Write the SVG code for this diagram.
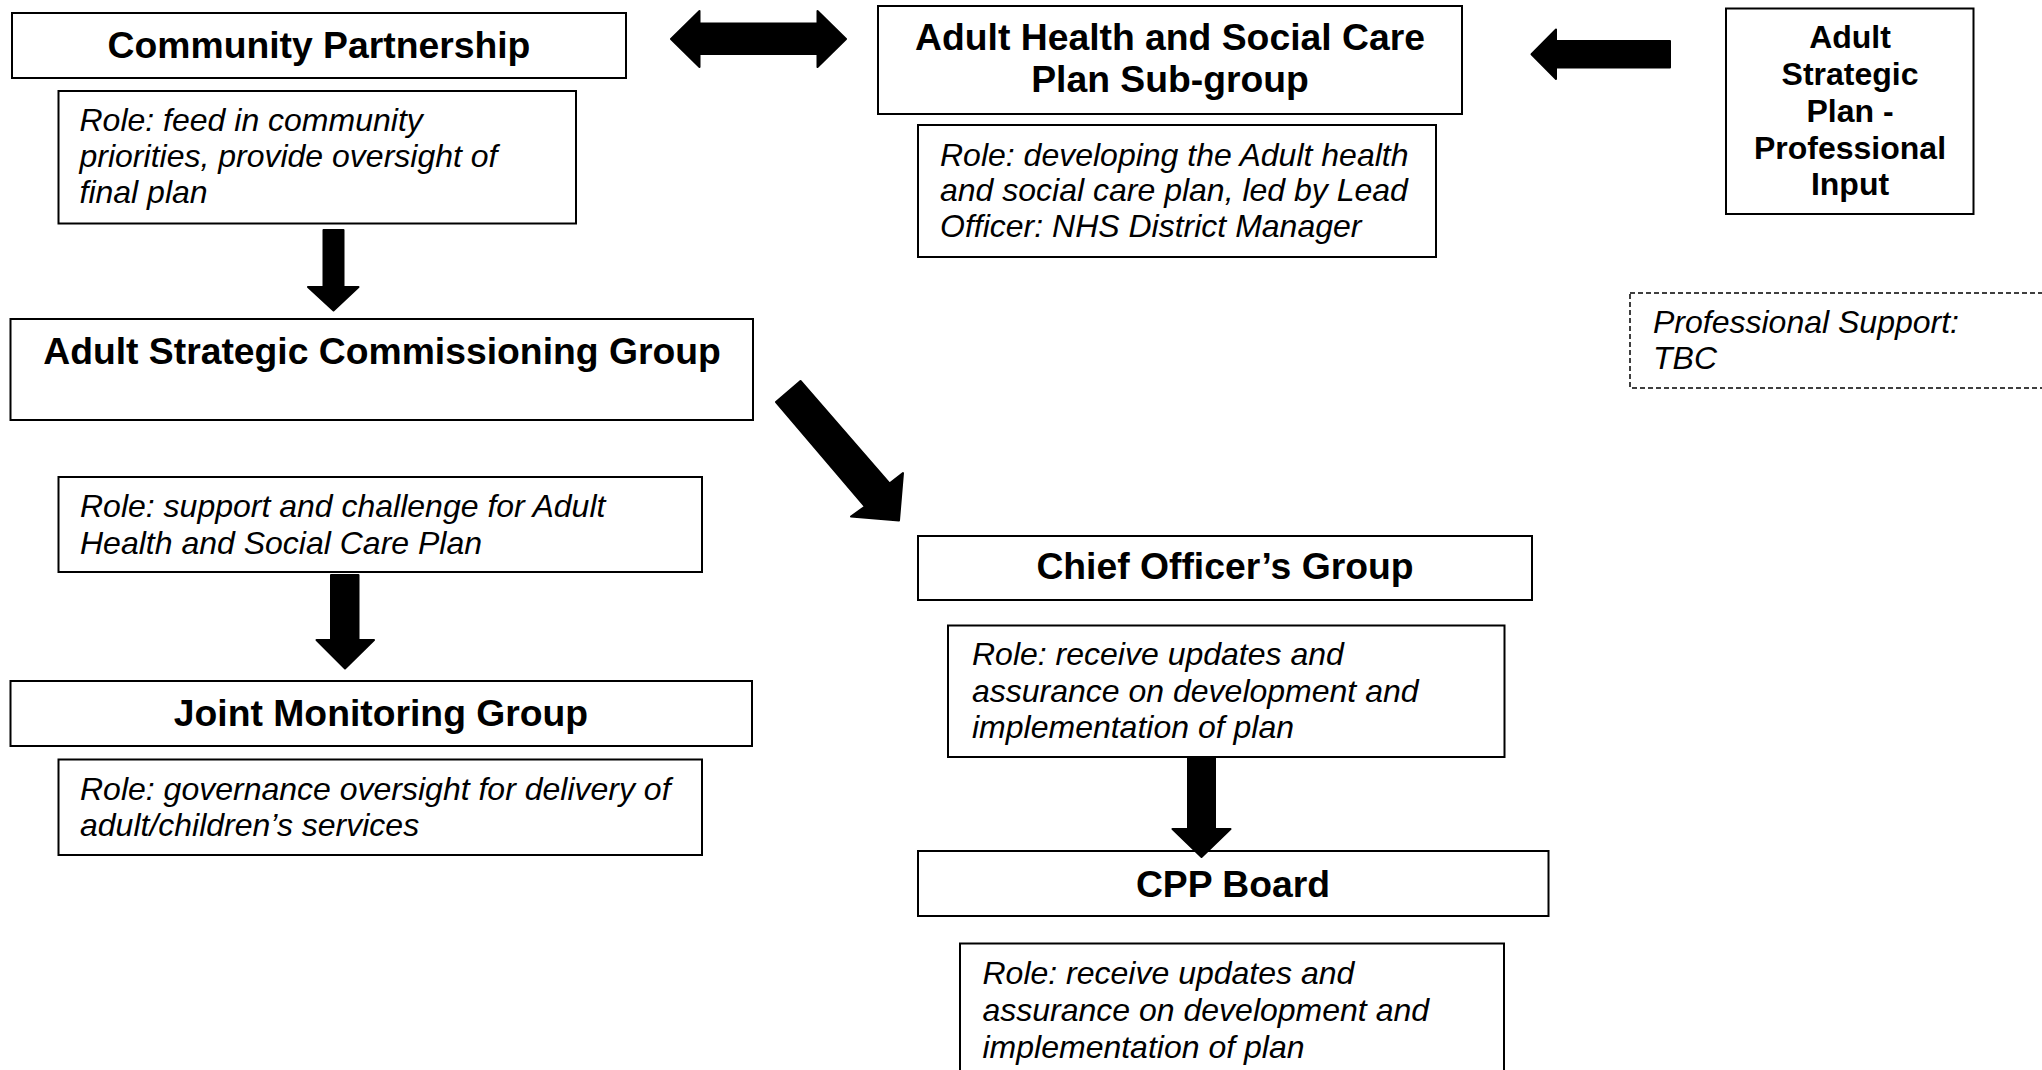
<svg xmlns="http://www.w3.org/2000/svg" width="2042" height="1070" viewBox="0 0 2042 1070">
<style>
.box{fill:#fff;stroke:#000;stroke-width:2}
.dash{fill:#fff;stroke:#000;stroke-width:1.5;stroke-dasharray:5 3}
.t{font-family:"Liberation Sans",Arial,sans-serif;font-weight:bold;font-size:37.3px;fill:#000;text-anchor:middle}
.s{font-family:"Liberation Sans",Arial,sans-serif;font-weight:bold;font-size:32px;fill:#000;text-anchor:middle}
.r{font-family:"Liberation Sans",Arial,sans-serif;font-style:italic;font-size:32px;fill:#000}
.arr{fill:#000;stroke:#000;stroke-width:2;stroke-linejoin:round}
</style>
<rect width="2042" height="1070" fill="#fff"/>
<g id="community-partnership">
<rect class="box" x="12" y="13" width="614" height="65"/>
<text class="t" x="319" y="58">Community Partnership</text>
</g>
<g id="community-partnership-role">
<rect class="box" x="58.5" y="91" width="517.5" height="132.5"/>
<text class="r" x="79.5" y="131">Role: feed in community</text>
<text class="r" x="79.5" y="167">priorities, provide oversight of</text>
<text class="r" x="79.5" y="203">final plan</text>
</g>
<g id="ahsc-subgroup">
<rect class="box" x="878" y="6" width="584" height="108"/>
<text class="t" x="1170" y="50">Adult Health and Social Care</text>
<text class="t" x="1170" y="92">Plan Sub-group</text>
</g>
<g id="ahsc-subgroup-role">
<rect class="box" x="918" y="125" width="518" height="132"/>
<text class="r" x="940" y="165.5">Role: developing the Adult health</text>
<text class="r" x="940" y="201">and social care plan, led by Lead</text>
<text class="r" x="940" y="237">Officer: NHS District Manager</text>
</g>
<g id="adult-strategic-plan-input">
<rect class="box" x="1726" y="8.5" width="247.5" height="205.5"/>
<text class="s" x="1850" y="48">Adult</text>
<text class="s" x="1850" y="85">Strategic</text>
<text class="s" x="1850" y="122">Plan -</text>
<text class="s" x="1850" y="159">Professional</text>
<text class="s" x="1850" y="195">Input</text>
</g>
<g id="professional-support">
<rect class="dash" x="1630" y="293" width="420" height="95"/>
<text class="r" x="1653" y="333">Professional Support:</text>
<text class="r" x="1653" y="369">TBC</text>
</g>
<g id="adult-strategic-commissioning-group">
<rect class="box" x="10.5" y="319" width="742.5" height="101"/>
<text class="t" x="382" y="364">Adult Strategic Commissioning Group</text>
</g>
<g id="ascg-role">
<rect class="box" x="58.5" y="477" width="643.5" height="95"/>
<text class="r" x="80" y="517">Role: support and challenge for Adult</text>
<text class="r" x="80" y="554">Health and Social Care Plan</text>
</g>
<g id="joint-monitoring-group">
<rect class="box" x="10.5" y="681" width="741.5" height="65"/>
<text class="t" x="381" y="726">Joint Monitoring Group</text>
</g>
<g id="jmg-role">
<rect class="box" x="58.5" y="759.5" width="643.5" height="95.5"/>
<text class="r" x="80" y="799.5">Role: governance oversight for delivery of</text>
<text class="r" x="80" y="835.5">adult/children’s services</text>
</g>
<g id="chief-officers-group">
<rect class="box" x="918" y="536" width="614" height="64"/>
<text class="t" x="1225" y="579">Chief Officer’s Group</text>
</g>
<g id="cog-role">
<rect class="box" x="948" y="625.5" width="556.5" height="131.5"/>
<text class="r" x="972" y="664.5">Role: receive updates and</text>
<text class="r" x="972" y="701.5">assurance on development and</text>
<text class="r" x="972" y="738">implementation of plan</text>
</g>
<g id="cpp-board">
<rect class="box" x="918" y="851" width="630.5" height="65"/>
<text class="t" x="1233" y="897">CPP Board</text>
</g>
<g id="cpp-role">
<rect class="box" x="960" y="943.5" width="544" height="140"/>
<text class="r" x="982.5" y="983.5">Role: receive updates and</text>
<text class="r" x="982.5" y="1020.5">assurance on development and</text>
<text class="r" x="982.5" y="1057.5">implementation of plan</text>
</g>
<g id="connectors">
<polygon class="arr" points="671,39 699.5,11 699.5,23.5 817.5,23.5 817.5,11 846,39 817.5,67 817.5,54 699.5,54 699.5,67"/>
<polygon class="arr" points="1531.5,54.3 1556,29.5 1556,41 1670,41 1670,67.5 1556,67.5 1556,79"/>
<polygon class="arr" points="323.5,230 343.5,230 343.5,287 358.5,287 333.5,310.5 308,287 323.5,287"/>
<polygon class="arr" points="331,575 358.5,575 358.5,640 374,640 345,668.5 316.5,640 331,640"/>
<polygon class="arr" points="1188,757 1215,757 1215,829 1230.5,829 1201.5,857 1172.5,829 1188,829"/>
<polygon class="arr" points="776,402 800.5,381 889.5,483.5 903,473 899,520.5 851,516.5 865,506.5"/>
</g>
</svg>
